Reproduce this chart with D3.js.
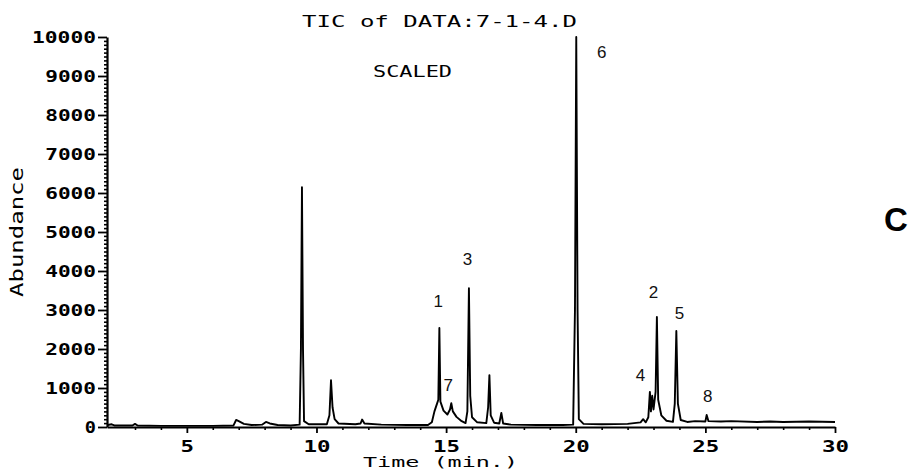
<!DOCTYPE html>
<html>
<head>
<meta charset="utf-8">
<script src="https://cdn.jsdelivr.net/npm/d3@7"></script>
<style>
  html, body { margin: 0; padding: 0; background: #fff; }
  svg { display: block; }
</style>
</head>
<body>
<svg id="chart" width="913" height="471"></svg>
<script>
// ---- data ----
const yTickValues = [0, 1000, 2000, 3000, 4000, 5000, 6000, 7000, 8000, 9000, 10000];
const xTickValues = [5, 10, 15, 20, 25, 30];
// [time (min), abundance]
const ticTrace = [
  [1.95, 50], [2.1, 70], [2.2, 40], [2.9, 40], [3.0, 80], [3.1, 40], [4.0, 30], [5.0, 30],
  [6.0, 30], [6.8, 40], [6.9, 180], [7.0, 150], [7.2, 80], [7.5, 50], [7.9, 60], [8.05, 130],
  [8.2, 90], [8.5, 50], [9.0, 40], [9.35, 60], [9.40, 2000], [9.44, 6150], [9.48, 2000],
  [9.52, 150], [9.7, 70], [10.4, 70], [10.5, 300], [10.56, 1200], [10.62, 500], [10.7, 200],
  [10.85, 90], [11.5, 70], [11.7, 90], [11.76, 190], [11.85, 90], [12.5, 60], [13.5, 50],
  [14.3, 50], [14.45, 120], [14.55, 400], [14.65, 600], [14.70, 700], [14.74, 2540],
  [14.78, 650], [14.9, 420], [15.05, 320], [15.15, 450], [15.2, 610], [15.26, 400],
  [15.4, 260], [15.6, 150], [15.75, 100], [15.82, 400], [15.88, 3560], [15.93, 800],
  [16.0, 250], [16.2, 120], [16.55, 100], [16.62, 500], [16.67, 1330], [16.72, 300],
  [16.85, 110], [17.05, 90], [17.13, 360], [17.2, 90], [17.5, 60], [18.5, 50], [19.5, 50],
  [19.9, 60], [19.97, 3000], [20.02, 10000], [20.07, 3000], [20.12, 200], [20.3, 80],
  [21.0, 70], [22.0, 80], [22.5, 120], [22.6, 200], [22.7, 120], [22.8, 250], [22.86, 900],
  [22.9, 400], [22.95, 800], [23.0, 450], [23.08, 900], [23.13, 2820], [23.18, 700],
  [23.3, 300], [23.5, 160], [23.75, 130], [23.82, 600], [23.88, 2460], [23.94, 600],
  [24.05, 180], [24.3, 130], [24.6, 150], [25.0, 140], [25.05, 310], [25.12, 150],
  [25.6, 140], [26.0, 150], [27.0, 130], [27.5, 140], [28.0, 130], [29.0, 140], [30.0, 130]
];
const peakNames = ["6", "3", "1", "7", "2", "5", "4", "8"];
const peakLabelTime = [21.0, 15.82, 14.70, 15.08, 23.0, 24.0, 22.5, 25.09];
const peakLabelAbundance = [9615, 4310, 3230, 1077, 3460, 2920, 1330, 795];
const titleText = "TIC of DATA:7-1-4.D";
const subtitleText = "SCALED";
const xLabelText = "Time (min.)";
const yLabelText = "Abundance";
const panelLetter = "C";

// ---- drawing ----
const svg = d3.select("#chart");
const x = d3.scaleLinear().domain([1.92, 30]).range([107, 835]);
const y = d3.scaleLinear().domain([0, 10000]).range([427, 37]);
const mono = "'DejaVu Sans Mono', monospace";

// minor y ticks
const yMinor = d3.range(0, 10001, 100).filter(v => v % 1000 !== 0);
svg.append("g").attr("transform", `translate(${x.range()[0]},0)`)
  .call(d3.axisLeft(y).tickValues(yMinor).tickSize(3).tickSizeOuter(0).tickFormat(""))
  .call(g => g.select(".domain").remove())
  .call(g => g.selectAll("line").attr("stroke", "#000").attr("stroke-width", 1.6));

// major y axis
const yAxisG = svg.append("g").attr("transform", `translate(${x.range()[0]},0)`)
  .call(d3.axisLeft(y).tickValues(yTickValues).tickSize(9).tickSizeOuter(0).tickPadding(2).tickFormat(d3.format("d")));
yAxisG.select(".domain").attr("stroke", "#000").attr("stroke-width", 2.2);
yAxisG.selectAll(".tick line").attr("stroke", "#000").attr("stroke-width", 1.8);
yAxisG.selectAll(".tick text")
  .attr("font-family", mono).attr("font-weight", "bold").attr("font-size", 15)
  .attr("fill", "#000").attr("dy", "0.36em")
  .attr("textLength", d => String(d).length * 13.2 - 2)
  .attr("lengthAdjust", "spacingAndGlyphs");

// minor x ticks
const xMinor = d3.range(3, 30, 1).filter(v => v % 5 !== 0);
svg.append("g").attr("transform", `translate(0,${y.range()[0]})`)
  .call(d3.axisBottom(x).tickValues(xMinor).tickSize(3).tickSizeOuter(0).tickFormat(""))
  .call(g => g.select(".domain").remove())
  .call(g => g.selectAll("line").attr("stroke", "#000").attr("stroke-width", 1.6));

// major x axis
const xAxisG = svg.append("g").attr("transform", `translate(0,${y.range()[0]})`)
  .call(d3.axisBottom(x).tickValues(xTickValues).tickSize(6).tickSizeOuter(0).tickPadding(8).tickFormat(d3.format("d")));
xAxisG.select(".domain").attr("stroke", "#000").attr("stroke-width", 2.2);
xAxisG.selectAll(".tick line").attr("stroke", "#000").attr("stroke-width", 1.8);
xAxisG.selectAll(".tick text")
  .attr("font-family", mono).attr("font-weight", "bold").attr("font-size", 15)
  .attr("fill", "#000")
  .attr("textLength", d => String(d).length * 13.5)
  .attr("lengthAdjust", "spacingAndGlyphs");

// trace
const line = d3.line().x(d => x(d[0])).y(d => y(d[1]));
svg.append("path").datum(ticTrace)
  .attr("d", line)
  .attr("fill", "none").attr("stroke", "#000")
  .attr("stroke-width", 1.9).attr("stroke-linejoin", "round");

// peak labels
svg.append("g").selectAll("text").data(peakNames).join("text")
  .attr("x", (d, i) => x(peakLabelTime[i]))
  .attr("y", (d, i) => y(peakLabelAbundance[i]))
  .attr("text-anchor", "middle").attr("dy", "0.36em")
  .attr("font-family", "'Liberation Sans', Arial, sans-serif")
  .attr("font-size", 17).attr("fill", "#111")
  .text(d => d);

// title and labels
svg.append("text").attr("x", 302).attr("y", 27)
  .attr("font-family", mono).attr("font-size", 16).attr("fill", "#000")
  .attr("textLength", 275).attr("lengthAdjust", "spacingAndGlyphs")
  .text(titleText);
svg.append("text").attr("x", 373).attr("y", 77)
  .attr("font-family", mono).attr("font-size", 16).attr("fill", "#000")
  .attr("textLength", 79).attr("lengthAdjust", "spacingAndGlyphs")
  .text(subtitleText);
svg.append("text").attr("x", 363).attr("y", 467)
  .attr("font-family", mono).attr("font-size", 13.5).attr("fill", "#000")
  .attr("textLength", 155).attr("lengthAdjust", "spacingAndGlyphs")
  .text(xLabelText);
svg.append("text")
  .attr("transform", "translate(23,232) rotate(-90)")
  .attr("text-anchor", "middle")
  .attr("font-family", mono).attr("font-size", 17).attr("fill", "#000")
  .attr("textLength", 130).attr("lengthAdjust", "spacingAndGlyphs")
  .text(yLabelText);
svg.append("text").attr("x", 884).attr("y", 231)
  .attr("font-family", "'Liberation Sans', Arial, sans-serif")
  .attr("font-weight", "bold").attr("font-size", 33).attr("fill", "#000")
  .text(panelLetter);
</script>
</body>
</html>
